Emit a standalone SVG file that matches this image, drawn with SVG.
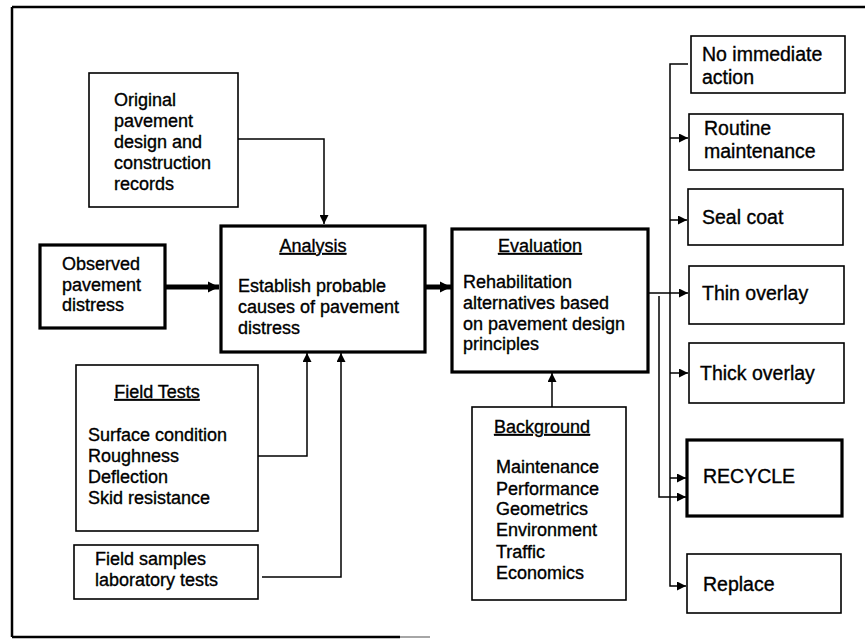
<svg xmlns="http://www.w3.org/2000/svg" width="865" height="640" viewBox="0 0 865 640">
<style>
text{font-family:"Liberation Sans",Arial,Helvetica,sans-serif;font-size:18px;fill:#000;stroke:#000;stroke-width:0.35}
.r{font-size:19.5px}
.u{text-decoration:underline}
.box{fill:#fff;stroke:#000;stroke-width:1.6}
.thick{fill:#fff;stroke:#000;stroke-width:3.2}
.ln{fill:none;stroke:#000;stroke-width:1.5}
.tk{fill:none;stroke:#000;stroke-width:5}
</style>
<defs>
<marker id="a" viewBox="0 0 10 10" refX="10" refY="5" markerWidth="9" markerHeight="9" markerUnits="userSpaceOnUse" orient="auto"><path d="M0,0L10,5L0,10z" fill="#000"/></marker>
<marker id="b" viewBox="0 0 10 10" refX="10" refY="5" markerWidth="11" markerHeight="12" markerUnits="userSpaceOnUse" orient="auto"><path d="M0,0L10,5L0,10z" fill="#000"/></marker>
</defs>
<rect width="865" height="640" fill="#fff"/>
<g id="frame">
<path d="M12,7H865M12,7V637M12,637H400" fill="none" stroke="#000" stroke-width="2.5"/>
<path d="M400,637H430" fill="none" stroke="#888" stroke-width="1.5"/>
</g>
<g id="connectors">
<path class="ln" d="M238,139H324V224" marker-end="url(#a)"/>
<path class="tk" d="M165,287H219" marker-end="url(#b)"/>
<path class="tk" d="M425,287H451" marker-end="url(#b)"/>
<path class="ln" d="M258,456H307V353" marker-end="url(#a)"/>
<path class="ln" d="M262,577H341V353" marker-end="url(#a)"/>
<path class="ln" d="M552,407V373" marker-end="url(#a)"/>
<path class="ln" d="M648,293H688" marker-end="url(#a)"/>
<path class="ln" d="M688,64H670V586H686" marker-end="url(#a)"/>
<path class="ln" d="M670,138H688" marker-end="url(#a)"/>
<path class="ln" d="M670,220H687" marker-end="url(#a)"/>
<path class="ln" d="M670,373H688" marker-end="url(#a)"/>
<path class="ln" d="M670,478H686" marker-end="url(#a)"/>
<path class="ln" d="M659,296V497H686" marker-end="url(#a)"/>
</g>
<g id="original">
<rect class="box" x="89" y="73" width="149" height="134"/>
<text x="114" y="106">Original</text>
<text x="114" y="127">pavement</text>
<text x="114" y="148">design and</text>
<text x="114" y="169">construction</text>
<text x="114" y="190">records</text>
</g>
<g id="observed">
<rect class="thick" x="40" y="245" width="125" height="83"/>
<text x="62" y="270">Observed</text>
<text x="62" y="291">pavement</text>
<text x="62" y="311">distress</text>
</g>
<g id="analysis">
<rect class="thick" x="221" y="226" width="204" height="126"/>
<text class="u" x="313" y="252" text-anchor="middle">Analysis</text>
<text x="238" y="292">Establish probable</text>
<text x="238" y="313">causes of pavement</text>
<text x="238" y="334">distress</text>
</g>
<g id="evaluation">
<rect class="thick" x="452" y="229" width="196" height="143"/>
<text class="u" x="540" y="252" text-anchor="middle">Evaluation</text>
<text x="463" y="288">Rehabilitation</text>
<text x="463" y="309">alternatives based</text>
<text x="463" y="330">on pavement design</text>
<text x="463" y="350">principles</text>
</g>
<g id="fieldtests">
<rect class="box" x="76" y="365" width="182" height="166"/>
<text class="u" x="157" y="398" text-anchor="middle">Field Tests</text>
<text x="88" y="441">Surface condition</text>
<text x="88" y="462">Roughness</text>
<text x="88" y="483">Deflection</text>
<text x="88" y="504">Skid resistance</text>
</g>
<g id="fieldsamples">
<rect class="box" x="74" y="545" width="184" height="54"/>
<text x="95" y="565">Field samples</text>
<text x="95" y="586">laboratory tests</text>
</g>
<g id="background">
<rect class="box" x="472" y="407" width="154" height="193"/>
<text class="u" x="494" y="433">Background</text>
<text x="496" y="473">Maintenance</text>
<text x="496" y="495">Performance</text>
<text x="496" y="515">Geometrics</text>
<text x="496" y="536">Environment</text>
<text x="496" y="558">Traffic</text>
<text x="496" y="579">Economics</text>
</g>
<g id="noaction">
<rect class="box" x="691" y="36" width="154" height="57"/>
<text class="r" x="702" y="61">No immediate</text>
<text class="r" x="702" y="84">action</text>
</g>
<g id="routine">
<rect class="box" x="689" y="114" width="154" height="56"/>
<text class="r" x="704" y="135">Routine</text>
<text class="r" x="704" y="158">maintenance</text>
</g>
<g id="sealcoat">
<rect class="box" x="688" y="189" width="155" height="56"/>
<text class="r" x="702" y="224">Seal coat</text>
</g>
<g id="thin">
<rect class="box" x="689" y="266" width="155" height="58"/>
<text class="r" x="702" y="300">Thin overlay</text>
</g>
<g id="thick">
<rect class="box" x="689" y="343" width="155" height="60"/>
<text class="r" x="700" y="380">Thick overlay</text>
</g>
<g id="recycle">
<rect class="thick" x="687" y="440" width="155" height="76"/>
<text class="r" x="703" y="483">RECYCLE</text>
</g>
<g id="replace">
<rect class="box" x="687" y="554" width="154" height="59"/>
<text class="r" x="703" y="591">Replace</text>
</g>
</svg>
